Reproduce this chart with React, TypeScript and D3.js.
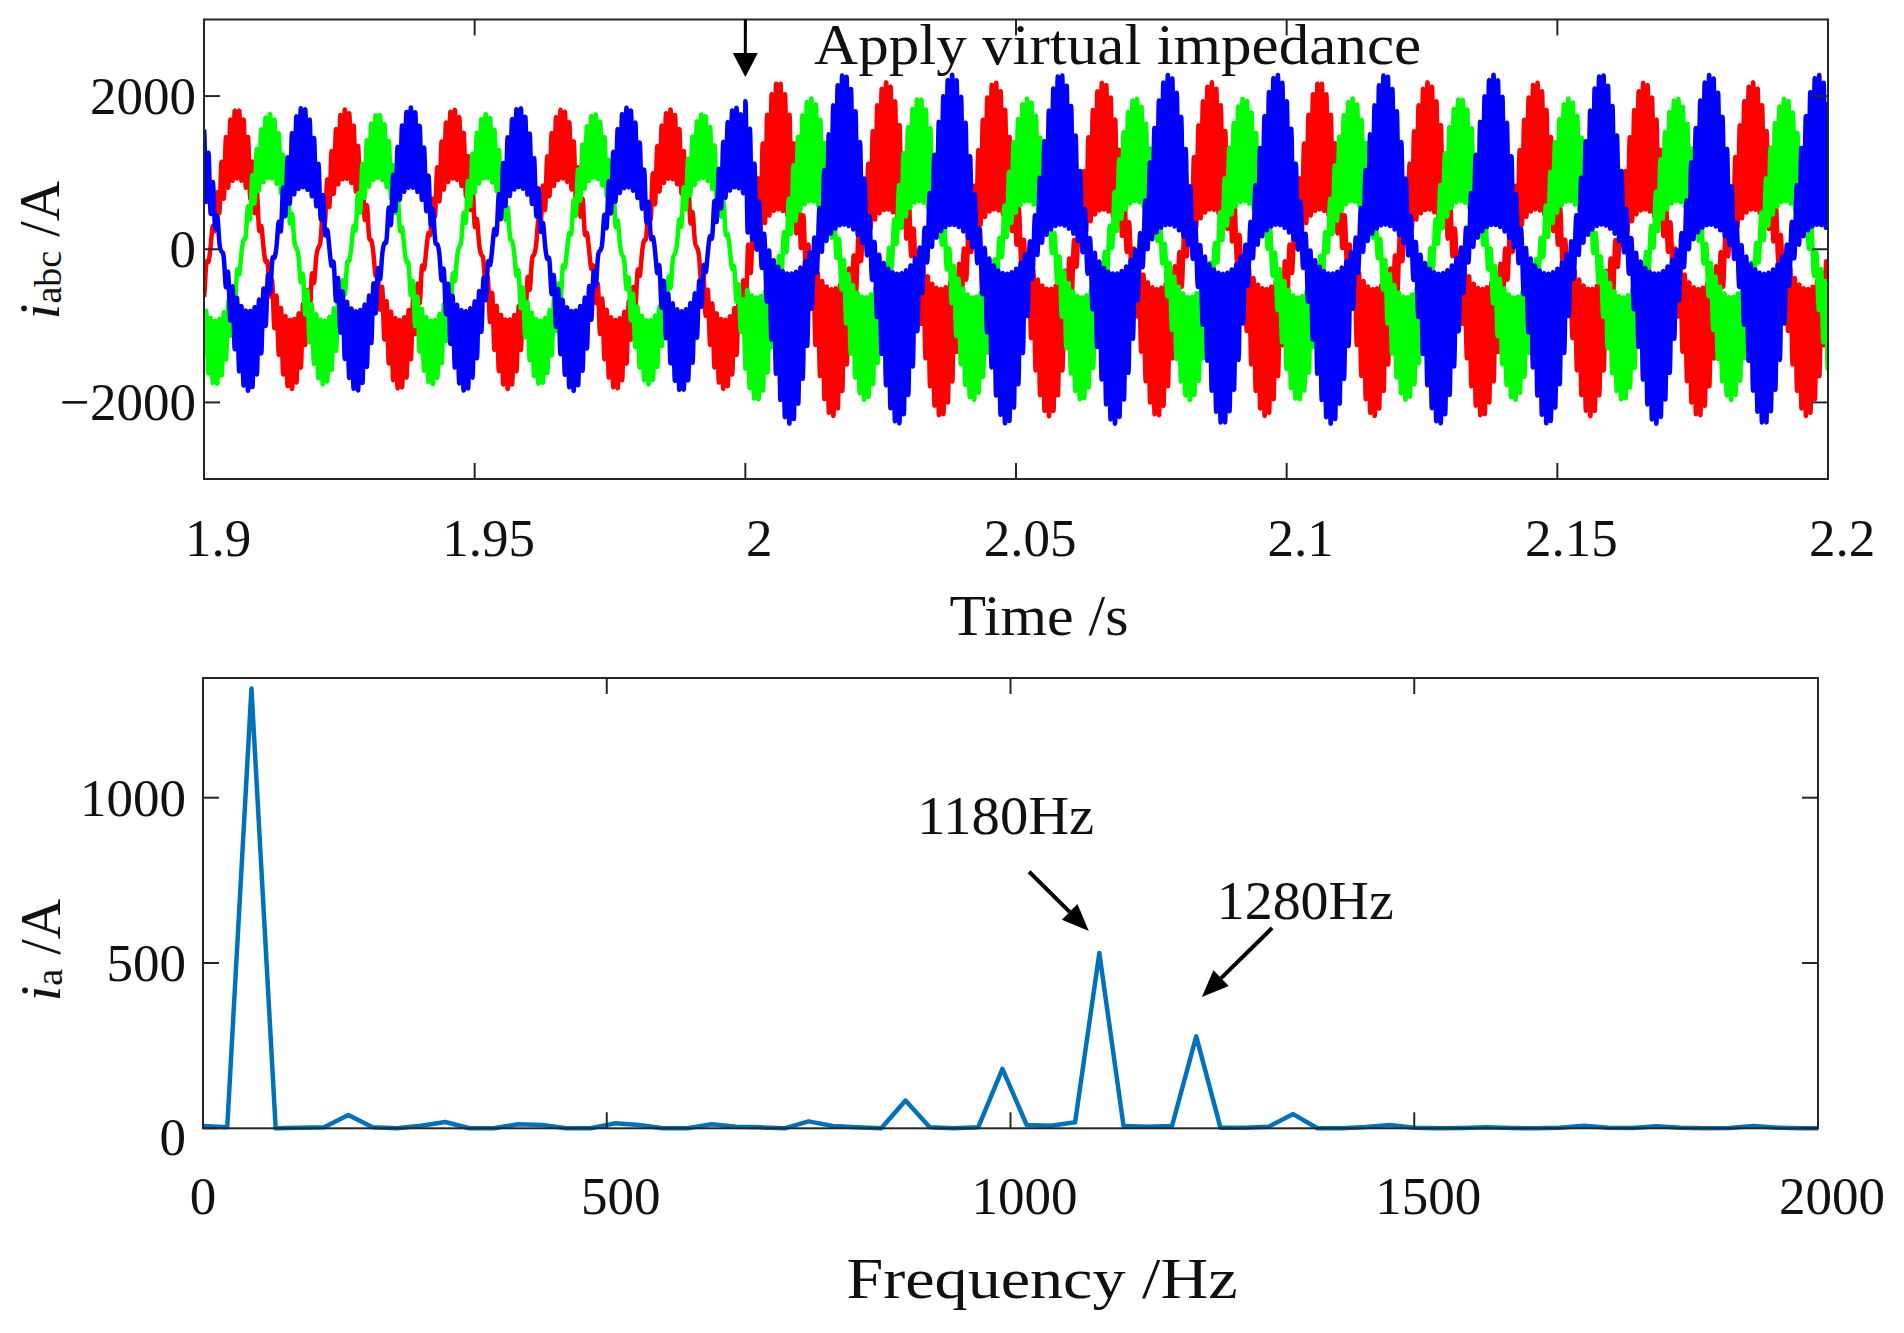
import { useMemo } from 'react';
import * as d3 from 'd3';

// ---------- top panel: three-phase currents ----------
const phaseColors = ['#ff0000', '#00ff00', '#0000ff']; // a, b, c
const crestTimes = [1.9061, 1.9121, 1.9182]; // first positive crest of each phase (s)
const crestBefore = [1375, 1350, 1330]; // fundamental amplitude before 2 s (A)
const crestAfter = [1350, 1300, 1300]; // fundamental amplitude after 2 s (A)
const rippleBefore = [450, 415, 520]; // half width of the ripple band at the crest (A)
const rippleAfter = [830, 670, 980];
const switchTime = 2.0;
const fundamentalHz = 50;
const sidebandHz = [1180, 1280]; // lower / upper sideband, from the spectrum labels
const sidebandShareBefore = [0.56, 0.44];
const sidebandShareAfter = [0.656, 0.344]; // 530 : 278 in the spectrum

const timeTicks = [1.9, 1.95, 2, 2.05, 2.1, 2.15, 2.2];
const currentTicks = [-2000, 0, 2000];

// ---------- bottom panel: spectrum of i_a, one value per 30 Hz bin ----------
const binWidth = 30;
const spectrumAmp = [
  7, 3, 1330, 0, 2, 3, 40, 3, 0, 8, 19, 0, 0, 12, 10, 0, 0, 15, 10, 0, 0, 12, 5, 3,
  0, 21, 7, 3, 0, 84, 3, 0, 3, 180, 10, 8, 18, 530, 7, 5, 7, 278, 2, 2, 5, 43, 0, 0,
  4, 10, 2, 0, 1, 3, 1, 0, 2, 8, 2, 1, 6, 2, 0, 1, 7, 2, 0, 0,
];
const freqTicks = [0, 500, 1000, 1500, 2000];
const ampTicks = [0, 500, 1000];

const peakNotes = [
  { label: '1180Hz', textF: 994, textA: 890, fromF: 1023, fromA: 776, toF: 1097, toA: 597 },
  { label: '1280Hz', textF: 1365, textA: 634, fromF: 1324, fromA: 606, toF: 1237, toA: 397 },
];
const applyNote = { label: 'Apply virtual impedance', t: 2.0, tipI: 2250, textT: 2.0127, textI: 2418 };

const FONT = "'Liberation Serif', 'Times New Roman', serif";
const INK = '#262626';
const TICK = 16;

function Arrow({ x1, y1, x2, y2, w, len, half }: any) {
  const a = Math.atan2(y2 - y1, x2 - x1);
  const bx = x2 - len * Math.cos(a);
  const by = y2 - len * Math.sin(a);
  const nx = -Math.sin(a) * half;
  const ny = Math.cos(a) * half;
  return (
    <g>
      <line x1={x1} y1={y1} x2={bx} y2={by} stroke="#000" strokeWidth={w} />
      <path d={`M${x2},${y2}L${bx + nx},${by + ny}L${bx - nx},${by - ny}Z`} fill="#000" />
    </g>
  );
}

// box with inward ticks on all four sides, like a MATLAB axes
function Frame({ x, y, xTicks, yTicks }: any) {
  const [l, r] = x.range();
  const [b, t] = y.range();
  return (
    <g stroke={INK} strokeWidth={2} fill="none">
      <rect x={l} y={t} width={r - l} height={b - t} />
      {xTicks.map((v: number) => (
        <g key={'x' + v}>
          <line x1={x(v)} x2={x(v)} y1={b} y2={b - TICK} />
          <line x1={x(v)} x2={x(v)} y1={t} y2={t + TICK} />
        </g>
      ))}
      {yTicks.map((v: number) => (
        <g key={'y' + v}>
          <line x1={l} x2={l + TICK} y1={y(v)} y2={y(v)} />
          <line x1={r} x2={r - TICK} y1={y(v)} y2={y(v)} />
        </g>
      ))}
    </g>
  );
}

export default function App() {
  const xT = d3.scaleLinear().domain([1.9, 2.2]).range([204, 1828]);
  const yT = d3.scaleLinear().domain([-3000, 3000]).range([479, 19.5]);
  const xB = d3.scaleLinear().domain([0, 2000]).range([203, 1818]);
  const yB = d3.scaleLinear().domain([0, 1362]).range([1128.3, 678]);

  // rebuild each phase current from the amplitudes read above:
  // fundamental plus the two ripple sidebands seen in the spectrum
  const phasePaths = useMemo(() => {
    const times = d3.range(1.9, 2.2 + 1e-9, 2e-5);
    const carrier = (sidebandHz[0] + sidebandHz[1]) / 2;
    return phaseColors.map((_, k) => {
      const pts = times.map((t) => {
        const after = t >= switchTime;
        const amp = after ? crestAfter[k] : crestBefore[k];
        const rip = after ? rippleAfter[k] : rippleBefore[k];
        const share = after ? sidebandShareAfter : sidebandShareBefore;
        const th = 2 * Math.PI * fundamentalHz * (t - crestTimes[k]) + Math.PI / 2;
        const w = 2 * Math.PI * carrier * t;
        const v =
          amp * Math.sin(th) +
          rip * share[1] * Math.sin(w + th) -
          rip * share[0] * Math.sin(w - th);
        return [xT(t), yT(v)] as [number, number];
      });
      return d3.line()(pts) as string;
    });
  }, []);

  const spectrumPath = useMemo(
    () =>
      d3
        .line<number>()
        .x((_, i) => xB(i * binWidth))
        .y((a) => yB(a))(spectrumAmp) as string,
    [],
  );

  const [tl, tr] = xT.range();
  const [tb, tt] = yT.range();
  const [bl, br] = xB.range();
  const [bb, bt] = yB.range();

  return (
    <svg
      width={1904}
      height={1333}
      style={{ position: 'absolute', left: 0, top: 0, background: '#fff' }}
      fontFamily={FONT}
    >
      <defs>
        <clipPath id="clipTop">
          <rect x={tl} y={tt} width={tr - tl} height={tb - tt} />
        </clipPath>
        <clipPath id="clipBottom">
          <rect x={bl} y={bt - 10} width={br - bl} height={bb - bt + 20} />
        </clipPath>
      </defs>

      {/* ---------- top panel ---------- */}
      <g clipPath="url(#clipTop)">
        {phasePaths.map((d, k) => (
          <path
            key={k}
            d={d}
            fill="none"
            stroke={phaseColors[k]}
            strokeWidth={4.5}
            strokeLinejoin="round"
          />
        ))}
      </g>
      <Frame x={xT} y={yT} xTicks={timeTicks} yTicks={currentTicks} />
      {timeTicks.map((v) => (
        <text key={v} x={xT(v) + 14} y={556} fontSize={53} textAnchor="middle" fill="#111">
          {String(v)}
        </text>
      ))}
      {currentTicks.map((v) => (
        <text key={v} x={196} y={yT(v) + 18} fontSize={53} textAnchor="end" fill="#111">
          {v < 0 ? '\u2212' + Math.abs(v) : String(v)}
        </text>
      ))}
      <text x={1039} y={635} fontSize={57} textAnchor="middle" textLength={179} lengthAdjust="spacingAndGlyphs" fill="#111">
        Time /s
      </text>
      <text transform="translate(59,250) rotate(-90)" textAnchor="middle" fill="#111">
        <tspan fontSize={56} fontStyle="italic">i</tspan>
        <tspan fontSize={38} dy={2}>abc</tspan>
        <tspan fontSize={56} dy={-2}> /A</tspan>
      </text>
      <Arrow x1={xT(applyNote.t)} y1={tt} x2={xT(applyNote.t)} y2={yT(applyNote.tipI)} w={3} len={24} half={12.5} />
      <text
        x={xT(applyNote.textT)}
        y={yT(applyNote.textI)}
        fontSize={56}
        textLength={607}
        lengthAdjust="spacingAndGlyphs"
        fill="#111"
      >
        {applyNote.label}
      </text>

      {/* ---------- bottom panel ---------- */}
      <g clipPath="url(#clipBottom)">
        <path d={spectrumPath} fill="none" stroke="#0072bd" strokeWidth={4.5} strokeLinejoin="round" />
      </g>
      <Frame x={xB} y={yB} xTicks={freqTicks} yTicks={ampTicks} />
      {freqTicks.map((v) => (
        <text key={v} x={xB(v) + (v === 0 ? 0 : 14)} y={1214} fontSize={53} textAnchor="middle" fill="#111">
          {String(v)}
        </text>
      ))}
      {ampTicks.map((v) => (
        <text key={v} x={186} y={yB(v) + (v === 0 ? 27 : 18)} fontSize={53} textAnchor="end" fill="#111">
          {String(v)}
        </text>
      ))}
      <text x={1042} y={1298} fontSize={57} textAnchor="middle" textLength={391} lengthAdjust="spacingAndGlyphs" fill="#111">
        Frequency /Hz
      </text>
      <text transform="translate(60,950) rotate(-90)" textAnchor="middle" fill="#111">
        <tspan fontSize={56} fontStyle="italic">i</tspan>
        <tspan fontSize={38} dy={2}>a</tspan>
        <tspan fontSize={56} dy={-2}> /A</tspan>
      </text>
      {peakNotes.map((n) => (
        <g key={n.label}>
          <text
            x={xB(n.textF)}
            y={yB(n.textA)}
            fontSize={55}
            textAnchor="middle"
            textLength={177}
            lengthAdjust="spacingAndGlyphs"
            fill="#111"
          >
            {n.label}
          </text>
          <Arrow x1={xB(n.fromF)} y1={yB(n.fromA)} x2={xB(n.toF)} y2={yB(n.toA)} w={4} len={27} half={11} />
        </g>
      ))}
    </svg>
  );
}
